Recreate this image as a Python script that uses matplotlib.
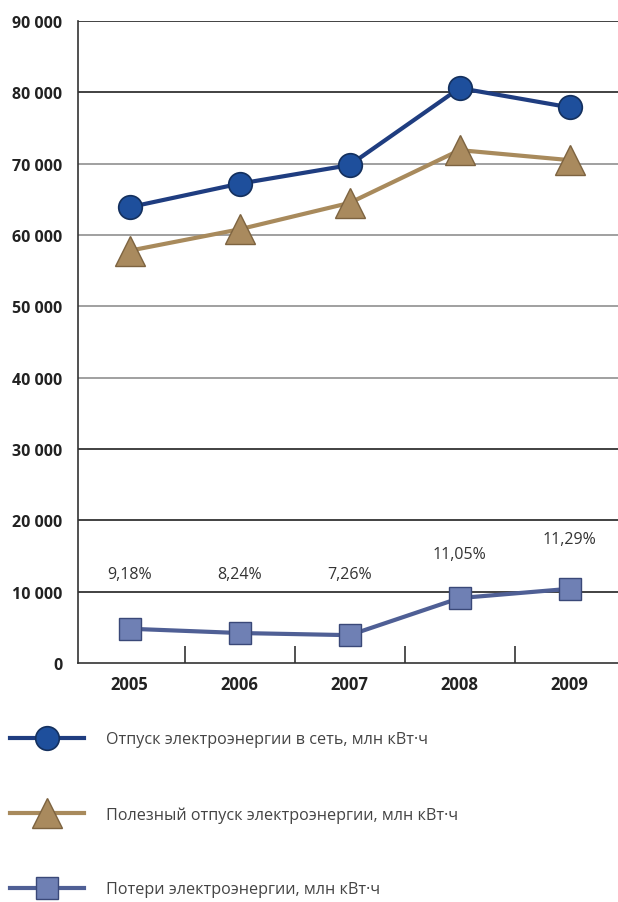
import matplotlib.pyplot as plt
from matplotlib.lines import Line2D

plt.rcParams['font.family'] = ['Open Sans', 'DejaVu Sans']

# data
years = ['2005', '2006', '2007', '2008', '2009']
supply = [63900, 67200, 69800, 80600, 77900]      # отпуск в сеть
useful = [57800, 60800, 64500, 71900, 70500]      # полезный отпуск
losses = [4800, 4200, 3900, 9100, 10400]          # потери
loss_pct = ['9,18%', '8,24%', '7,26%', '11,05%', '11,29%']
pct_y = [12500, 12500, 12500, 15300, 17400]

yticks = [0, 10000, 20000, 30000, 40000, 50000, 60000, 70000, 80000, 90000]
ytick_labels = ['0', '10 000', '20 000', '30 000', '40 000', '50 000',
                '60 000', '70 000', '80 000', '90 000']
grid_colors = ['#333333', '#333333', '#333333', '#333333', '#999999', '#999999',
               '#999999', '#999999', '#333333', '#333333']

labels = ['Отпуск электроэнергии в сеть, млн кВт·ч',
          'Полезный отпуск электроэнергии, млн кВт·ч',
          'Потери электроэнергии, млн кВт·ч']

fig = plt.figure(figsize=(6.18, 9.03), dpi=100)
ax = fig.add_axes([0.126, 0.2647, 0.874, 0.7109])

x = list(range(len(years)))

# gridlines
for v, c in zip(yticks[1:], grid_colors[1:]):
    ax.axhline(v, color=c, lw=1.3, zorder=1)

s1 = dict(color='#1f3d80', lw=3.0, marker='o', ms=17, mfc='#1e4f9c', mec='#14305e', mew=1.2)
s2 = dict(color='#a88a5c', lw=3.0, marker='^', ms=22, mfc='#a98a5e', mec='#7d6340', mew=1.0)
s3 = dict(color='#4f5f95', lw=3.0, marker='s', ms=16, mfc='#6f80b4', mec='#3a4878', mew=1.0)

ax.plot(x, supply, zorder=3, **s1)
ax.plot(x, useful, zorder=3, **s2)
ax.plot(x, losses, zorder=3, **s3)

for xi, t, yv in zip(x, loss_pct, pct_y):
    ax.text(xi, yv, t, ha='center', va='center', fontsize=11.5, color='#333333')

ax.set_xlim(-0.47, 4.44)
ax.set_ylim(0, 90000)
ax.set_yticks(yticks)
ax.set_yticklabels(ytick_labels, fontsize=11.5, fontweight='bold', color='#222222')
ax.set_xticks(x)
ax.set_xticklabels(years, fontsize=12, fontweight='bold', color='#222222')
ax.set_xticks([0.5, 1.5, 2.5, 3.5], minor=True)
ax.tick_params(axis='x', which='major', length=0, pad=9)
ax.tick_params(axis='x', which='minor', direction='in', length=12, width=1.2, color='#333333')
ax.tick_params(axis='y', length=0, pad=11)

for sp in ['top', 'right']:
    ax.spines[sp].set_visible(False)
ax.spines['left'].set_color('#333333')
ax.spines['bottom'].set_color('#333333')
ax.spines['left'].set_linewidth(1.2)
ax.spines['bottom'].set_linewidth(1.2)

# legend
handles = [Line2D([], [], **s1), Line2D([], [], **s2), Line2D([], [], **s3)]
fig.legend(handles, labels, loc='upper left', bbox_to_anchor=(-0.008, 0.205),
           frameon=False, fontsize=11.6, labelspacing=3.65, handlelength=4.6,
           handletextpad=1.4, labelcolor='#444444')

fig.savefig('out.png', dpi=100)
